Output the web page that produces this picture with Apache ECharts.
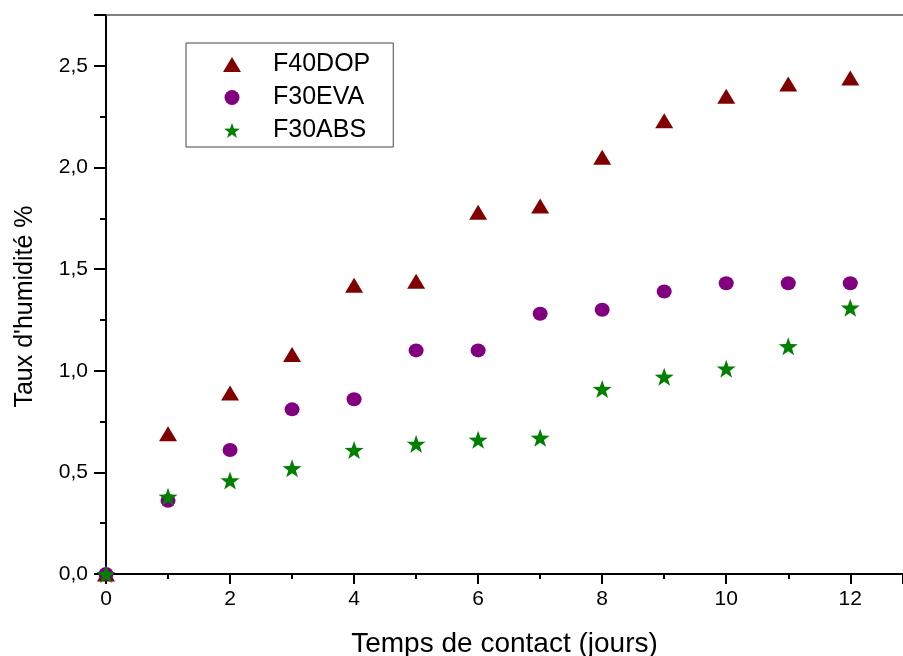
<!DOCTYPE html>
<html>
<head>
<meta charset="utf-8">
<script src="https://cdn.jsdelivr.net/npm/echarts@6/dist/echarts.min.js"></script>
<style>
html,body{margin:0;padding:0;background:#fff;}
#chart{width:903px;height:656px;}
</style>
</head>
<body>
<div id="chart"></div>
<script>
const days = [0, 1, 2, 3, 4, 5, 6, 7, 8, 9, 10, 11, 12];
const f40dop = [0, 0.69, 0.89, 1.08, 1.42, 1.44, 1.78, 1.81, 2.05, 2.23, 2.35, 2.41, 2.44];
const f30eva = [0, 0.36, 0.61, 0.81, 0.86, 1.10, 1.10, 1.28, 1.30, 1.39, 1.43, 1.43, 1.43];
const f30abs = [0, 0.38, 0.46, 0.52, 0.61, 0.64, 0.66, 0.67, 0.91, 0.97, 1.01, 1.12, 1.31];
const seriesNames = ['F40DOP', 'F30EVA', 'F30ABS'];
const xTitle = 'Temps de contact (jours)';
const yTitle = "Taux d'humidité %";

const STAR = 'path://M50 0 L61.76 33.82 L97.55 34.55 L69.02 56.18 L79.39 90.45 L50 70 L20.61 90.45 L30.98 56.18 L2.45 34.55 L38.24 33.82 Z';
const pairs = arr => days.map((d, i) => [d, arr[i]]);
const FONT = '"Liberation Sans", Arial, sans-serif';

const chart = echarts.init(document.getElementById('chart'), null, {renderer: 'canvas'});
chart.setOption({
  animation: false,
  backgroundColor: '#fff',
  textStyle: {fontFamily: FONT},
  grid: {left: 106, right: 0, top: 15, bottom: 82, containLabel: false, outerBoundsMode: 'none'},
  legend: {
    orient: 'vertical',
    left: 186, top: 43,
    padding: [9, 23, 4, 37],
    borderColor: '#444', borderWidth: 1,
    itemWidth: 18, itemHeight: 15, itemGap: 8,
    textStyle: {fontSize: 25, color: '#000', fontFamily: FONT, lineHeight: 24, padding: [0, 0, 0, 27]},
    data: seriesNames
  },
  xAxis: [{
    type: 'value', min: 0, max: 12.85, interval: 2,
    name: xTitle, nameLocation: 'middle', nameGap: 56,
    nameTextStyle: {fontSize: 28, color: '#000', fontFamily: FONT},
    axisLine: {onZero: false, lineStyle: {color: '#000', width: 2}},
    axisTick: {inside: false, length: 10, lineStyle: {color: '#000', width: 2}},
    minorTick: {show: true, splitNumber: 2, length: 5, lineStyle: {color: '#000', width: 2}},
    splitLine: {show: false},
    axisLabel: {fontSize: 21, color: '#000', margin: 15, showMaxLabel: false,
      formatter: v => (Math.abs(v - Math.round(v)) < 1e-6 ? String(Math.round(v)) : '')}
  }, {
    type: 'value', position: 'top', min: 0, max: 12.85,
    axisLine: {show: true, onZero: false, lineStyle: {color: '#555', width: 1.5}},
    axisTick: {show: false}, axisLabel: {show: false}, splitLine: {show: false}
  }],
  yAxis: {
    type: 'value', min: 0, max: 2.75, interval: 0.5,
    name: yTitle, nameLocation: 'middle', nameGap: 68, nameRotate: 90,
    nameTextStyle: {fontSize: 25, color: '#000', fontFamily: FONT, padding: [0, 24, 0, 0]},
    axisLine: {onZero: false, lineStyle: {color: '#000', width: 2}},
    axisTick: {length: 12, lineStyle: {color: '#000', width: 2}},
    minorTick: {show: true, splitNumber: 2, length: 6, lineStyle: {color: '#000', width: 2}},
    splitLine: {show: false},
    axisLabel: {fontSize: 21, color: '#000', margin: 18, showMaxLabel: false,
      formatter: v => v.toFixed(1).replace('.', ',')}
  },
  series: [{
    name: seriesNames[0], type: 'scatter', data: pairs(f40dop),
    symbol: 'triangle', symbolSize: [18, 15], itemStyle: {color: '#800000', opacity: 1}, z: 2
  }, {
    name: seriesNames[1], type: 'scatter', data: pairs(f30eva),
    symbol: 'circle', symbolSize: [15, 14], itemStyle: {color: '#800080', opacity: 1}, z: 3
  }, {
    name: seriesNames[2], type: 'scatter', data: pairs(f30abs),
    symbol: STAR, symbolSize: [19, 18], itemStyle: {color: '#008000', opacity: 1}, z: 4
  }]
});
</script>
</body>
</html>
